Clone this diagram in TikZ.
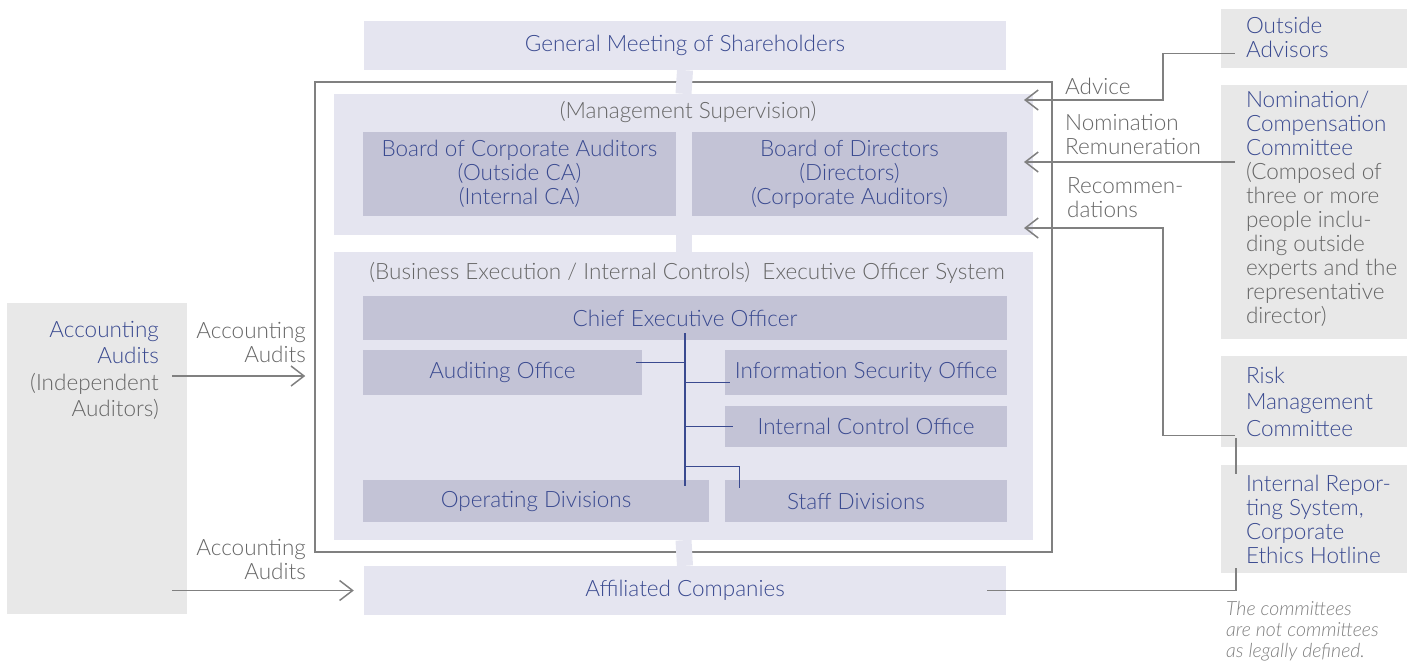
\documentclass[tikz,border=0pt]{standalone}
\usepackage{fontspec}
\setmainfont{Lato Light}
\usetikzlibrary{arrows.meta}
\usetikzlibrary{positioning}
\usetikzlibrary{calc}
\definecolor{panel}{HTML}{E5E5F0}
\definecolor{inner}{HTML}{C3C3D6}
\definecolor{side}{HTML}{E8E8E8}
\definecolor{navy}{HTML}{3A4A90}
\definecolor{txtgray}{HTML}{666666}
\definecolor{linegray}{HTML}{808080}

\begin{document}
\begin{tikzpicture}[x=1pt,y=-1pt,
  every node/.style={inner sep=0pt,font=\fontsize{22.5}{24}\selectfont},
  pan/.style={fill=panel,text=navy},
  box/.style={fill=inner,text=navy,align=center},
  sidebox/.style={fill=side},
  lbl/.style={text=txtgray,align=left},
  link/.style={draw=linegray,line width=1.5pt},
  arr/.style={link,-{Straight Barb[length=13pt,width=20pt]}},
  tree/.style={draw=navy,line width=1.3pt},
  strip/.style={draw=panel,line width=16pt}]
\useasboundingbox (0,0) rectangle (1412,662);
% frame round the company bodies
\node[draw=linegray,line width=1.5pt,minimum width=737,minimum height=470] (frame) at (683.5,317) {};
\node[pan,minimum width=642,minimum height=49] (gm) at (685,45.5) {General Meeting of Shareholders};
\node[pan,minimum width=699,minimum height=141] (sup) at (683.5,164.5) {};
\node[pan,minimum width=699,minimum height=288] (exe) at (683.5,396) {};
\node[pan,minimum width=642,minimum height=49] (aff) at (685,590.5) {Affiliated Companies};
\draw[strip] (gm.south) -- (sup.north);
\draw[strip] (sup.south) -- (exe.north);
\draw[strip] (exe.south) -- (aff.north);
\node[lbl] (supt) at (688,112) {(Management Supervision)};
\node[lbl] (exet) at (687,273) {(Business Execution / Internal Controls)\ \ Executive Officer System};
\node[box,minimum width=313,minimum height=84] (bca) at (519.5,174) {Board of Corporate Auditors\\(Outside CA)\\(Internal CA)};
\node[box,minimum width=315,minimum height=84] (bod) at (849.5,174) {Board of Directors\\(Directors)\\(Corporate Auditors)};
\node[box,minimum width=644,minimum height=44] (ceo) at (685,318) {Chief Executive Officer};
\node[box,minimum width=279,minimum height=45] (aud) at (502.5,372.5) {Auditing Office};
\node[box,minimum width=282,minimum height=45] (iso) at (866,372.5) {Information Security Office};
\node[box,minimum width=282,minimum height=41] (ico) at (866,426.5) {Internal Control Office};
\node[box,minimum width=346,minimum height=42] (opd) at (536,501) {Operating Divisions};
\node[box,minimum width=282,minimum height=42] (std) at (866,501) {Staff Divisions\hspace*{20pt}};
% reporting lines under the CEO
\draw[tree] ([yshift=7]ceo.south) -- ([yshift=-6]ceo.south |- opd.north);
\draw[tree] ([xshift=-6,yshift=10]aud.east) -- ([yshift=10]aud.east -| ceo.south);
\draw[tree] ([yshift=-10]iso.west -| ceo.south) -- ([xshift=5,yshift=-10]iso.west);
\draw[tree] (ico.west -| ceo.south) -- ([xshift=8]ico.west);
\draw[tree] ([yshift=13]std.north west -| ceo.south) -| ([xshift=15,yshift=-8]std.north west);
% independent auditors
\node[sidebox,minimum width=180,minimum height=311] (ind) at (97,458.5) {};
\node[lbl,align=right,anchor=north east,font=\fontsize{22.5}{26.5}\selectfont] (indt) at (159,321)
  {\textcolor{navy}{Accounting}\\\textcolor{navy}{Audits}\\(Independent\\Auditors)};
\node[lbl,align=right,anchor=east] (acc1) at (306,342) {Accounting\\Audits};
\node[lbl,align=right,anchor=east] (acc2) at (306,559) {Accounting\\Audits};
\draw[arr] ([xshift=-15]ind.east |- 0,376) -- ([xshift=-9]frame.west |- 0,376);
\draw[arr] ([xshift=-15]ind.east |- aff.west) -- ([xshift=-10]aff.west);
% committees on the right
\node[sidebox,minimum width=186,minimum height=59] (adv) at (1314,38.5) {};
\node[sidebox,minimum width=186,minimum height=254] (nom) at (1314,212) {};
\node[sidebox,minimum width=186,minimum height=91] (risk) at (1314,401.5) {};
\node[sidebox,minimum width=186,minimum height=108] (irs) at (1314,519) {};
\node[lbl,text=navy,anchor=west] (advt) at ([xshift=25,yshift=1]adv.west) {Outside\\Advisors};
\node[lbl,anchor=west] (nomt) at ([xshift=25,yshift=3]nom.west)
  {\textcolor{navy}{Nomination/}\\\textcolor{navy}{Compensation}\\\textcolor{navy}{Committee}\\(Composed of\\three or more\\people inclu-\\ding outside\\experts and the\\representative\\director)};
\node[lbl,text=navy,anchor=west,font=\fontsize{22.5}{26.5}\selectfont] (riskt) at ([xshift=25]risk.west) {Risk\\Management\\Committee};
\node[lbl,text=navy,anchor=west] (irst) at ([xshift=25]irs.west) {Internal Repor-\\ting System,\\Corporate\\Ethics Hotline};
\node[lbl,anchor=west,text=linegray,font=\fontsize{19.5}{21}\selectfont\itshape] (note) at (1226,631)
  {The committees\\are not committees\\as legally defined.};
\coordinate (tadv) at (1024,100);
\coordinate (tnom) at (1024,162);
\coordinate (trec) at (1024,228);
\node[lbl,anchor=west] (advl) at (1065,86) {Advice};
\node[lbl,anchor=west] (noml) at (1065,134) {Nomination\\Remuneration};
\node[lbl,anchor=west] (recl) at (1067,198) {Recommen-\\dations};
\draw[arr] ([xshift=14,yshift=-15]adv.west) -| ([xshift=139]tadv) -- (tadv);
\draw[arr] (nom.west |- tnom) ++(14,0) -- (tnom);
\draw[arr] ([xshift=14,yshift=-34]risk.west) -| ([xshift=139]trec) -- (trec);
\draw[link] ([xshift=15,yshift=9]risk.south west) -- ([xshift=15,yshift=-9]irs.north west);
\draw[link] ([xshift=-19]aff.east) -| ([xshift=15,yshift=5]irs.south west);
\end{tikzpicture}
\end{document}
